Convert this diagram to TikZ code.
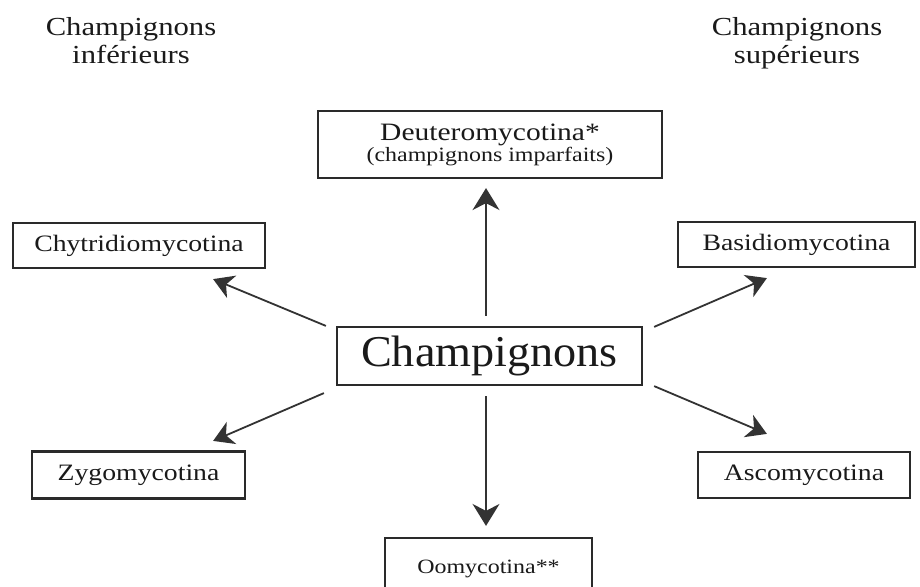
\documentclass[tikz,border=0pt]{standalone}
\usepackage{fontspec}
\setmainfont{Liberation Serif}
\newfontfamily\lab[FakeStretch=1.18]{Liberation Serif}
\newfontfamily\bigfont[FakeStretch=1.05]{Liberation Serif}
\usetikzlibrary{arrows.meta,calc}
\definecolor{ink}{HTML}{1A1A1A}
\definecolor{frame}{HTML}{2A2A2A}
\definecolor{shaft}{HTML}{333333}
\tikzset{
  box/.style={draw=frame, line width=2.2pt, inner sep=0pt, text=ink, anchor=center, align=center},
  lbl/.style={font=\lab\fontsize{23.5}{26}\selectfont},
  title/.style={text=ink, align=center, anchor=north, font=\lab\fontsize{26}{28}\selectfont},
  arr/.style={draw=shaft, line width=1.8pt, -{Stealth[length=20pt,width=24pt,inset=6pt]}},
  varr/.style={draw=shaft, line width=1.6pt, -{Stealth[length=22pt,width=27pt,inset=7pt]}}
}
\begin{document}
\begin{tikzpicture}[x=1pt,y=-1pt]
\useasboundingbox (0,0) rectangle (920,586);
\clip (0,0) rectangle (920,586);
\fill[white] (0,0) rectangle (920,586);

\node[title] (tl) at (131,14) {Champignons\\inférieurs};
\node[title] (tr) at (797,14) {Champignons\\supérieurs};

\node[box, minimum width=344pt, minimum height=67pt,
      font=\lab\fontsize{25}{22}\selectfont] (deut) at (490,144.5)
  {Deuteromycotina*\\[-1pt]{\fontsize{20.3}{22}\selectfont(champignons imparfaits)}};
\node[box, lbl, minimum width=252pt, minimum height=45pt] (chyt) at (139,245.5) {Chytridiomycotina};
\node[box, lbl, minimum width=237pt, minimum height=45pt] (basid) at (796.5,244.5) {Basidiomycotina};
\node[box, minimum width=305pt, minimum height=58pt,
      font=\bigfont\fontsize{44}{46}\selectfont] (champ) at (489.5,356) {Champignons};
\node[box, lbl, minimum width=213pt, minimum height=47pt] (zygo) at (138.5,475) {Zygomycotina};
\node[box, lbl, minimum width=212pt, minimum height=46pt] (asco) at (804,475) {Ascomycotina};
\node[box, minimum width=207pt, minimum height=66pt,
      font=\lab\fontsize{20.3}{22}\selectfont] (oomy) at (488.5,571) {\raisebox{9pt}{Oomycotina**}};

% arrows
\draw[varr] ($(champ.north)+(-3.5,-10)$) -- ($(deut.south)+(-4,9)$);
\draw[varr] ($(champ.south)+(-3.5,10)$) -- ($(oomy.north)+(-2.5,-11)$);
\draw[arr] ($(champ.north west)+(-10,0)$) -- ($(chyt.south east)+(-53,10)$);
\draw[arr] ($(champ.south west)+(-12,7)$) -- ($(zygo.north east)+(-33,-9.5)$);
\draw[arr] ($(champ.north east)+(11,1)$) -- ($(basid.south west)+(90,10)$);
\draw[arr] ($(champ.south east)+(11,0)$) -- ($(asco.north west)+(70,-17)$);
\end{tikzpicture}
\end{document}
